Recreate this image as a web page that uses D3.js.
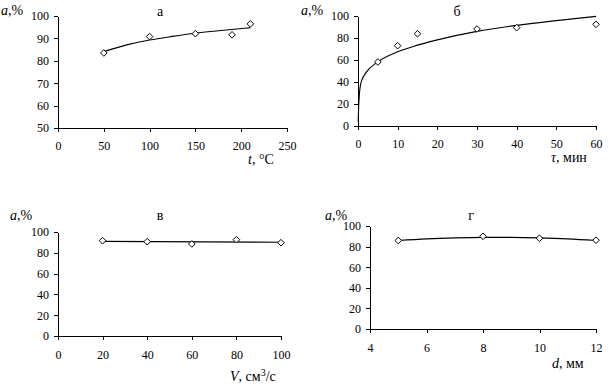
<!DOCTYPE html>
<html>
<head>
<meta charset="utf-8">
<script src="https://cdn.jsdelivr.net/npm/d3@7"></script>
<style>
  body { margin: 0; background: #fff; }
  svg text { font-family: 'Liberation Serif', 'Times New Roman', serif; fill: #000; }
</style>
</head>
<body>
<div id="chart"></div>
<script>
// data
// а : temperature
const tempX = [50, 100, 150, 190, 210];
const tempY = [83.5, 90.8, 92.1, 91.6, 96.5];
const tempTrend = [[50, 84.1], [75, 87.1], [100, 89.3], [125, 90.9], [150, 92.3], [175, 93.4], [210, 94.8]];
// б : time
const timeX = [5, 10, 15, 30, 40, 60];
const timeY = [58.2, 73, 83.9, 88.2, 89.4, 92.4];
const timeTrend = [[0.05, 4], [0.15, 16], [0.4, 31], [0.7, 38.5], [1, 42], [2, 48.5], [5, 58.3],
                   [10, 67.5], [15, 73.5], [20, 78.3], [30, 86], [40, 91.5], [50, 95.8], [60, 99.7]];
// в : flow
const flowX = [20, 40, 60, 80, 100];
const flowY = [91.6, 90.7, 88.5, 92.6, 89.7];
const flowTrend = [[20, 91.0], [100, 90.1]];
// г : diameter
const diamX = [5, 8, 10, 12];
const diamY = [85.9, 90.0, 88.1, 86.2];
const diamTrend = [[5, 85.9], [6, 87.5], [7, 88.5], [8, 89.0], [9, 89.0], [10, 88.5], [11, 87.5], [12, 85.9]];

// ticks
const tempTicks = [0, 50, 100, 150, 200, 250];
const timeTicks = [0, 10, 20, 30, 40, 50, 60];
const flowTicks = [0, 20, 40, 60, 80, 100];
const diamTicks = [4, 6, 8, 10, 12];
const yTicksA = [50, 60, 70, 80, 90, 100];
const yTicks = [0, 20, 40, 60, 80, 100];

const FONT = "'Liberation Serif', 'Times New Roman', serif";

const svg = d3.select("#chart").append("svg")
  .attr("width", 608)
  .attr("height", 386);

function panel(p) {
  const x = d3.scaleLinear().domain(p.xDomain).range(p.xRange);
  const y = d3.scaleLinear().domain(p.yDomain).range(p.yRange);

  const g = svg.append("g");

  // axes
  g.append("g")
    .attr("transform", "translate(0," + p.yRange[0] + ")")
    .call(d3.axisBottom(x).tickValues(p.xTicks).tickSize(4).tickSizeOuter(0).tickPadding(p.xPad || 10))
    .attr("font-family", FONT).attr("font-size", 12)
    .call(a => a.selectAll("path,line").attr("stroke", "#000").attr("shape-rendering", "crispEdges"));

  g.append("g")
    .attr("transform", "translate(" + p.xRange[0] + ",0)")
    .call(d3.axisLeft(y).tickValues(p.yTicks).tickSize(4).tickSizeOuter(0).tickPadding(5))
    .attr("font-family", FONT).attr("font-size", 12)
    .call(a => a.selectAll("path,line").attr("stroke", "#000").attr("shape-rendering", "crispEdges"));

  // trend line
  const line = d3.line()
    .x(d => x(d[0]))
    .y(d => y(d[1]))
    .curve(d3.curveMonotoneX);
  g.append("path")
    .datum(p.trend)
    .attr("d", line)
    .attr("fill", "none")
    .attr("stroke", "#000")
    .attr("stroke-width", 1.1);

  // markers
  const pts = p.xs.map((v, i) => [v, p.ys[i]]);
  g.selectAll(".pt")
    .data(pts)
    .join("path")
    .attr("class", "pt")
    .attr("d", d3.symbol(d3.symbolDiamond2, 28))
    .attr("transform", d => "translate(" + x(d[0]) + "," + y(d[1]) + ")")
    .attr("fill", "#fff")
    .attr("stroke", "#000")
    .attr("stroke-width", 1);

  // y label  a,%
  const yl = g.append("text")
    .attr("x", p.yLabel[0])
    .attr("y", p.yLabel[1])
    .attr("font-size", 14);
  yl.append("tspan").attr("font-style", "italic").text("a");
  yl.append("tspan").text(",%");

  // panel letter
  g.append("text")
    .attr("x", p.title[0])
    .attr("y", p.title[1])
    .attr("text-anchor", "middle")
    .attr("font-size", 14)
    .text(p.letter);

  // x label
  const xl = g.append("text")
    .attr("x", p.xLabel[0])
    .attr("y", p.xLabel[1])
    .attr("font-size", 14);
  xl.append("tspan").attr("font-style", "italic").text(p.xVar);
  p.xUnit.forEach(u => {
    const t = xl.append("tspan").text(u[0]);
    if (u[1]) t.attr("baseline-shift", "super").attr("font-size", 10);
  });
}

panel({
  xDomain: [0, 250], xRange: [58, 287], xTicks: tempTicks, xPad: 9,
  yDomain: [50, 100], yRange: [128, 16], yTicks: yTicksA,
  xs: tempX, ys: tempY, trend: tempTrend,
  yLabel: [1, 15], title: [160, 16], letter: "а",
  xLabel: [248, 164], xVar: "t", xUnit: [[", °C"]]
});

panel({
  xDomain: [0, 60], xRange: [358, 596], xTicks: timeTicks, xPad: 9,
  yDomain: [0, 100], yRange: [126, 16], yTicks: yTicks,
  xs: timeX, ys: timeY, trend: timeTrend,
  yLabel: [301, 15], title: [457, 16], letter: "б",
  xLabel: [551, 162], xVar: "τ", xUnit: [[", мин"]]
});

panel({
  xDomain: [0, 100], xRange: [58, 281], xTicks: flowTicks,
  yDomain: [0, 100], yRange: [336, 232], yTicks: yTicks,
  xs: flowX, ys: flowY, trend: flowTrend,
  yLabel: [10, 220], title: [160, 220], letter: "в",
  xLabel: [230, 381], xVar: "V", xUnit: [[", см"], ["3", true], ["/с"]]
});

panel({
  xDomain: [4, 12], xRange: [370, 596], xTicks: diamTicks,
  yDomain: [0, 100], yRange: [329, 226], yTicks: yTicks,
  xs: diamX, ys: diamY, trend: diamTrend,
  yLabel: [325, 220], title: [471, 220], letter: "г",
  xLabel: [552, 368], xVar: "d", xUnit: [[", мм"]]
});
</script>
</body>
</html>
